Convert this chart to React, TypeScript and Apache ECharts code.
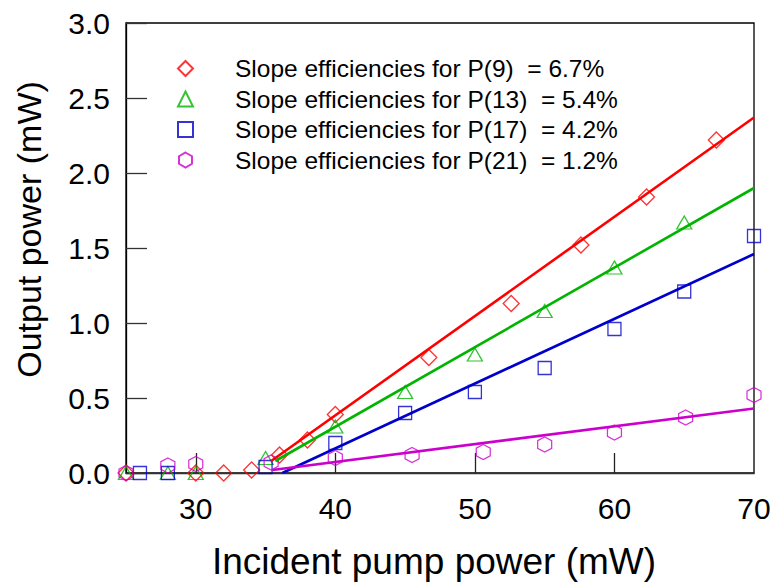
import React, { useEffect, useRef } from "react";
import * as echarts from "echarts";

// Measured points
const p9X = [25, 30, 32, 34, 36, 38, 40, 46.7, 52.6, 57.6, 62.3, 67.3];
const p9Y = [0, 0, 0, 0.02, 0.12, 0.22, 0.39, 0.77, 1.13, 1.52, 1.84, 2.22];
const p13X = [25, 28, 30, 35, 40, 45, 50, 55, 60, 65];
const p13Y = [0, 0, 0, 0.1, 0.31, 0.54, 0.79, 1.08, 1.37, 1.67];
const p17X = [26, 28, 35, 40, 45, 50, 55, 60, 65, 70];
const p17Y = [0, 0, 0.04, 0.2, 0.4, 0.54, 0.7, 0.96, 1.21, 1.58];
const p21X = [25, 28, 30, 35.4, 40, 45.5, 50.6, 55, 60, 65.1, 70];
const p21Y = [0, 0.05, 0.06, 0.07, 0.1, 0.12, 0.14, 0.19, 0.27, 0.37, 0.52];

// Linear fits (end points)
const fit9X = [35.4, 70];
const fit9Y = [0.08, 2.37];
const fit13X = [35.7, 70];
const fit13Y = [0.08, 1.9];
const fit17X = [36.2, 70];
const fit17Y = [0, 1.46];
const fit21X = [35.5, 70];
const fit21Y = [0.02, 0.43];

const seriesNames = [
  "Slope efficiencies for P(9)\u00a0 = 6.7%",
  "Slope efficiencies for P(13)\u00a0 = 5.4%",
  "Slope efficiencies for P(17)\u00a0 = 4.2%",
  "Slope efficiencies for P(21)\u00a0 = 1.2%",
];

const xLabelValues = [30, 40, 50, 60, 70];
const xTickValues = [30, 40, 50, 60];

const HEX = "path://M0,-10L8.66,-5L8.66,5L0,10L-8.66,5L-8.66,-5Z";

const zip = (xs: number[], ys: number[]) => xs.map((x, i) => [x, ys[i]]);

const FONT = "'Liberation Sans', Arial, Helvetica, sans-serif";

export default function App() {
  const ref = useRef<HTMLDivElement>(null);
  useEffect(() => {
    document.body.style.margin = "0";
    if (!ref.current) return;
    const chart = echarts.init(ref.current, null, { renderer: "svg" });
    const colors = ["#ff0000", "#00b400", "#0000cc", "#cc00cc"];
    const symbols = ["diamond", "triangle", "rect", HEX];
    const sizes: any[] = [[16, 16], [15, 13], [13, 13], [14, 15]];
    const pts = [zip(p9X, p9Y), zip(p13X, p13Y), zip(p17X, p17Y), zip(p21X, p21Y)];
    const fits = [zip(fit9X, fit9Y), zip(fit13X, fit13Y), zip(fit17X, fit17Y), zip(fit21X, fit21Y)];
    const series: any[] = [];
    for (let i = 0; i < 4; i++) {
      series.push({
        type: "line",
        name: "fit" + i,
        data: fits[i],
        showSymbol: false,
        symbol: "none",
        z: 3,
        lineStyle: { color: colors[i], width: 2.6 },
        itemStyle: { color: colors[i] },
      });
    }
    for (let i = 0; i < 4; i++) {
      series.push({
        type: "scatter",
        name: seriesNames[i],
        data: pts[i],
        symbol: symbols[i],
        symbolSize: sizes[i],
        z: 2,
        itemStyle: { color: "rgba(255,255,255,0)", borderColor: colors[i], borderWidth: 1.3 },
      });
    }
    chart.setOption({
      animation: false,
      grid: {
        left: 126,
        right: 21,
        top: 23,
        bottom: 111,
        show: true,
        borderColor: "#000",
        borderWidth: 1.3,
        containLabel: false,
      },
      legend: {
        data: seriesNames,
        orient: "vertical",
        left: 172,
        top: 51,
        itemWidth: 15,
        itemHeight: 15,
        itemGap: 5.5,
        textStyle: {
          fontFamily: FONT,
          fontSize: 24.5,
          color: "#000",
          padding: [0, 0, 0, 37],
        },
      },
      xAxis: {
        type: "value",
        min: 25,
        max: 70,
        name: "Incident pump power (mW)",
        nameLocation: "middle",
        nameGap: 70,
        nameTextStyle: {
          fontFamily: FONT,
          fontSize: 37,
          color: "#000",
          padding: [0, 12, 0, 0],
        },
        splitLine: { show: false },
        axisLine: { show: true, lineStyle: { color: "#333", width: 1.3 } },
        axisTick: {
          show: true,
          inside: true,
          length: 20,
          customValues: xTickValues,
          lineStyle: { color: "#222", width: 1.3 },
        },
        axisLabel: {
          customValues: xLabelValues,
          fontFamily: FONT,
          fontSize: 30,
          color: "#000",
          margin: 20,
        },
      },
      yAxis: {
        type: "value",
        min: 0,
        max: 3,
        interval: 0.5,
        name: "Output power (mW)",
        nameLocation: "middle",
        nameGap: 80,
        nameTextStyle: {
          fontFamily: FONT,
          fontSize: 34,
          color: "#000",
          padding: [0, 0, 0, 37],
        },
        splitLine: { show: false },
        axisLine: { show: true, lineStyle: { color: "#000", width: 1.3 } },
        axisTick: { show: true, inside: true, length: 21, lineStyle: { color: "#333", width: 1.3 } },
        axisLabel: {
          fontFamily: FONT,
          fontSize: 30,
          color: "#000",
          margin: 16,
          formatter: (v: number) => v.toFixed(1),
        },
      },
      series,
    });
    return () => chart.dispose();
  }, []);
  return <div ref={ref} style={{ width: 775, height: 585 }} />;
}
